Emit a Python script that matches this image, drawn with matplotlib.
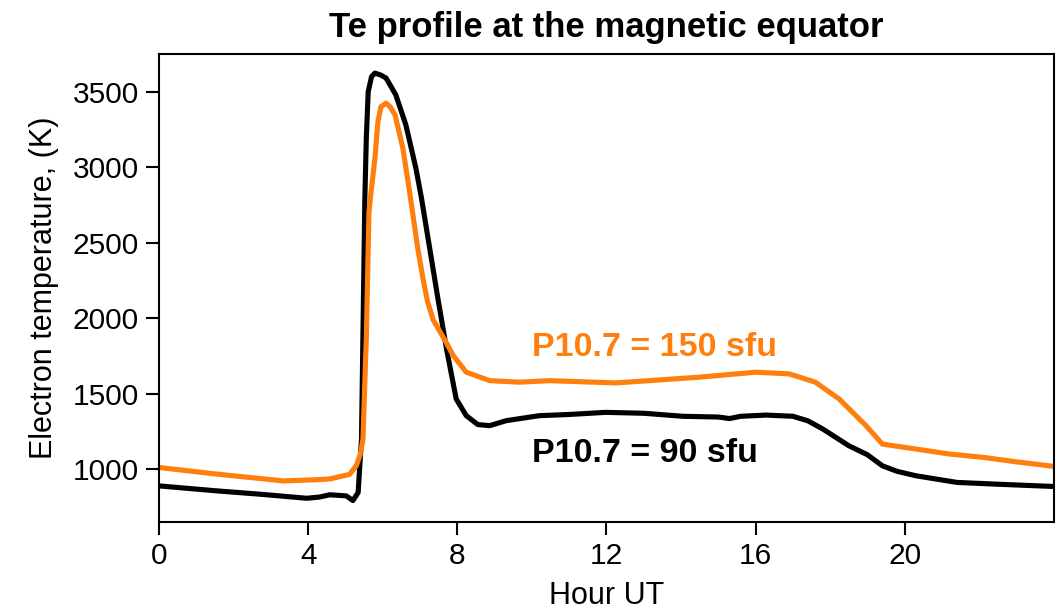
import matplotlib
matplotlib.use('Agg')
import matplotlib.pyplot as plt

plt.rcParams['font.family'] = ['Liberation Sans', 'DejaVu Sans']

# P10.7 = 90 sfu
hour_90 = [0, 1.55, 2.7, 3.96, 4.3, 4.58, 5.02, 5.2, 5.34, 5.43, 5.46, 5.52,
           5.56, 5.61, 5.70, 5.79, 5.95, 6.09, 6.35, 6.62, 6.89, 7.04, 7.26,
           7.48, 7.71, 7.97, 8.24, 8.55, 8.87, 9.31, 10.2, 11.0, 11.97, 13.0,
           14.05, 15.0, 15.3, 15.6, 16.28, 17.0, 17.4, 17.8, 18.5, 19.0, 19.4,
           19.8, 20.3, 21.4, 22.5, 24.0]
te_90 = [889, 856, 834, 807, 815, 830, 823, 792, 845, 1199, 1730, 2793,
         3200, 3500, 3600, 3623, 3610, 3590, 3479, 3280, 2992, 2793, 2461,
         2129, 1797, 1465, 1354, 1295, 1288, 1321, 1354, 1362, 1376, 1370,
         1350, 1345, 1335, 1350, 1358, 1350, 1320, 1266, 1155, 1095, 1022,
         985, 956, 912, 900, 885]

# P10.7 = 150 sfu
hour_150 = [0, 1.55, 3.34, 4.24, 4.58, 5.11, 5.29, 5.40, 5.47, 5.54, 5.56,
            5.63, 5.67, 5.79, 5.87, 5.95, 6.09, 6.2, 6.33, 6.54, 6.72, 6.81,
            6.94, 7.08, 7.2, 7.35, 7.54, 7.7, 7.89, 8.24, 8.87, 9.67, 10.47,
            12.25, 14.49, 16.0, 16.9, 17.6, 18.24, 18.96, 19.4, 20.3, 21.2,
            22.1, 22.97, 24.0]
te_150 = [1011, 967, 922, 930, 935, 965, 1022, 1100, 1199, 1730, 1863,
          2700, 2800, 3058, 3300, 3400, 3424, 3400, 3346, 3125, 2837, 2682,
          2461, 2260, 2110, 1990, 1908, 1840, 1752, 1642, 1586, 1576, 1586,
          1571, 1609, 1642, 1631, 1576, 1465, 1288, 1166, 1133, 1100,
          1078, 1049, 1018]

orange = '#ff7f0e'

fig = plt.figure(figsize=(10.56, 6.13), dpi=100)
ax = fig.add_axes([0.1506, 0.1485, 0.8474, 0.7635])

ax.plot(hour_90, te_90, color='black', lw=3.7, solid_joinstyle='round')
ax.plot(hour_150, te_150, color=orange, lw=3.7, solid_joinstyle='round')

ax.text(10.0, 1748, 'P10.7 = 150 sfu', color=orange, fontsize=24.5,
        fontweight='bold', va='baseline')
ax.text(10.0, 1048, 'P10.7 = 90 sfu', color='black', fontsize=24.5,
        fontweight='bold', va='baseline')

ax.set_xlim(0, 24)
ax.set_ylim(650, 3750)
ax.set_xticks([0, 4, 8, 12, 16, 20])
ax.set_yticks([1000, 1500, 2000, 2500, 3000, 3500])
ax.tick_params(direction='out', length=9.5, width=1.5, labelsize=21.5, pad=5)
for s in ax.spines.values():
    s.set_linewidth(1.5)

ax.set_title('Te profile at the magnetic equator', fontsize=25,
             fontweight='bold', pad=12)
ax.set_xlabel('Hour UT', fontsize=22, labelpad=8)
ax.set_ylabel('Electron temperature, (K)', fontsize=22, labelpad=10)

fig.savefig('out.png', dpi=100)
